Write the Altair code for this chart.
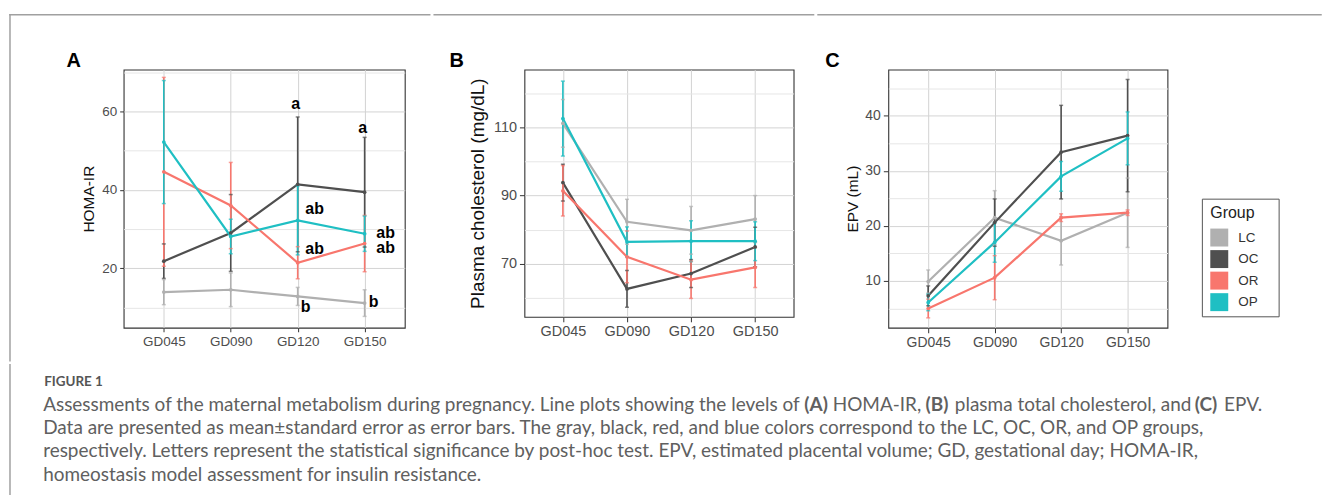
import altair as alt
import pandas as pd

# ---------------- data ----------------
GROUPS = ["LC", "OC", "OR", "OP"]
DAYS = ["GD045", "GD090", "GD120", "GD150"]
PALETTE = ["#b0b0b0", "#4f4f4f", "#f8766d", "#1fbfc3"]

# Panel A: HOMA-IR (mean, standard error)
homa_mean = [
    [13.9, 14.5, 12.8, 11.1],   # LC
    [21.8, 29.0, 41.4, 39.4],   # OC
    [44.6, 36.0, 21.4, 26.3],   # OR
    [52.2, 28.1, 32.2, 28.8],   # OP
]
homa_se = [
    [3.2, 4.3, 2.3, 3.4],
    [4.4, 9.8, 17.2, 14.0],
    [24.1, 11.0, 4.1, 7.2],
    [15.7, 4.4, 8.8, 4.5],
]

# Panel B: plasma cholesterol (mg/dL)
chol_mean = [
    [111.2, 82.3, 79.8, 83.1],
    [93.8, 62.6, 67.1, 74.9],
    [91.4, 72.0, 65.3, 68.9],
    [112.6, 76.4, 76.6, 76.6],
]
chol_se = [
    [7.0, 6.6, 7.0, 6.9],
    [5.4, 5.4, 4.1, 5.8],
    [7.4, 7.6, 5.5, 5.9],
    [11.0, 4.4, 6.0, 5.7],
]

# Panel C: EPV (mL)
epv_mean = [
    [9.9, 21.5, 17.3, 22.4],
    [7.3, 20.6, 33.4, 36.4],
    [5.0, 10.6, 21.5, 22.4],
    [6.1, 17.0, 29.0, 35.9],
]
epv_se = [
    [2.1, 4.9, 4.4, 6.3],
    [1.8, 4.3, 8.5, 10.2],
    [1.7, 4.0, 0.7, 0.5],
    [1.5, 3.6, 2.7, 4.8],
]

# significance letters in panel A
letter_text = ["a", "a", "ab", "ab", "ab", "ab", "b", "b"]
letter_day = ["GD120", "GD150", "GD120", "GD120", "GD150", "GD150", "GD120", "GD150"]
letter_value = [62.0, 55.9, 35.2, 24.8, 29.0, 25.2, 10.0, 11.3]

# caption
caption_title = "FIGURE 1"
caption_line1 = [
    ("Assessments of the maternal metabolism during pregnancy. Line plots showing the levels of", False),
    ("(A)", True), ("HOMA-IR,", False), ("(B)", True),
    ("plasma total cholesterol, and", False), ("(C)", True), ("EPV.", False),
]
caption_lines = [
    "Data are presented as mean\u00b1standard error as error bars. The gray, black, red, and blue colors correspond to the LC, OC, OR, and OP groups,",
    "respectively. Letters represent the statistical significance by post-hoc test. EPV, estimated placental volume; GD, gestational day; HOMA-IR,",
    "homeostasis model assessment for insulin resistance.",
]

# ---------------- layout / style (not data) ----------------
FONT = "Liberation Sans"
CAP_FONT = "Lato"
CAP_SIZE = 19
CAP_COLOR = "#606060"
FRAME = "#a0a0a0"
OX, OY = 122.75, 68          # page position of panel A's plot origin
CAP_OY = 361.5               # page y of the caption block origin
LETTER_DX = [-2, -2, 17, 17, 21, 21, 8, 9]
LINE1_PAGE_X = [42, 805.5, 834, 927, 956.5, 1197, 1226.5]
CAP_PAGE_Y = [379, 401.7, 425, 448.3, 471.7]
CAP_H = 130

ONE = alt.Data(values=[{"k": 1}])


def table(means, ses):
    rows = []
    for g, m, s in zip(GROUPS, means, ses):
        for d, mv, sv in zip(DAYS, m, s):
            rows.append({"group": g, "day": d, "mean": mv, "se": sv})
    return pd.DataFrame(rows)


def hline(x1, x2, y):
    return alt.Chart(ONE).mark_rule(color=FRAME, strokeWidth=1.5, strokeCap="square").encode(
        x=alt.value(x1), x2=alt.value(x2), y=alt.value(y))


def vline(x, y1, y2):
    return alt.Chart(ONE).mark_rule(color=FRAME, strokeWidth=1.5, strokeCap="square").encode(
        x=alt.value(x), y=alt.value(y1), y2=alt.value(y2))


def label(txt, x, y):
    return alt.Chart(ONE).mark_text(text=txt, font=FONT, fontSize=20, fontWeight="bold",
                                    color="#000", align="center", baseline="middle").encode(
        x=alt.value(x), y=alt.value(y))


cscale = alt.Scale(domain=GROUPS, range=PALETTE)
# the legend's scale is data-driven (sorted in group order) so it is not merged
# with the hidden colour legend
fscale = alt.Scale(range=PALETTE)


def panel(df, letter, letter_xy, ytitle, domain, values, test, w, h,
          lfs, tfs, tpad, tick, seg, extra=None, legend=None):
    xaxis = alt.Axis(title=None, labelFont=FONT, labelFontSize=lfs, labelColor="#4d4d4d",
                     labelPadding=3, labelAngle=0, tickSize=tick, tickColor="#333",
                     domain=False, grid=True, gridColor="#d2d2d2", gridWidth=1)
    x = alt.X("day:N", sort=DAYS, scale=alt.Scale(type="point", padding=0.6, domain=DAYS), axis=xaxis)
    yscale = alt.Scale(domain=domain, nice=False, zero=False)
    yaxis = alt.Axis(title=ytitle, values=values, labelExpr=f"({test}) ? datum.label : ''",
                     labelFont=FONT, labelFontSize=lfs, labelColor="#4d4d4d", labelPadding=3,
                     titleFont=FONT, titleFontSize=tfs, titleFontWeight="normal",
                     titleColor="#111", titlePadding=tpad,
                     tickSize=tick, tickColor="#333",
                     tickOpacity={"condition": {"test": test, "value": 1}, "value": 0},
                     gridColor={"condition": {"test": test, "value": "#d4d4d4"}, "value": "#e6e6e6"},
                     gridWidth=1, domain=False)
    color = alt.Color("group:N", scale=cscale, legend=None)
    base = alt.Chart(df).transform_calculate(lo="datum.mean - datum.se", hi="datum.mean + datum.se")
    lines = base.mark_line(strokeWidth=2.2).encode(
        x=x, y=alt.Y("mean:Q", scale=yscale, axis=yaxis), color=color)
    bars = base.mark_rule(strokeWidth=1.6).encode(
        x=x, y=alt.Y("lo:Q", scale=yscale, axis=yaxis), y2="hi:Q", color=color)
    cap_lo = base.mark_tick(size=4, thickness=1.5).encode(
        x=x, y=alt.Y("lo:Q", scale=yscale, axis=yaxis), color=color)
    cap_hi = base.mark_tick(size=4, thickness=1.5).encode(
        x=x, y=alt.Y("hi:Q", scale=yscale, axis=yaxis), color=color)
    if legend is not None:
        pts = base.mark_point(filled=True, size=14, opacity=1).encode(
            x=x, y=alt.Y("mean:Q", scale=yscale, axis=yaxis),
            fill=alt.Fill("group:N", sort=GROUPS, scale=fscale, legend=legend))
    else:
        pts = base.mark_point(filled=True, size=14, opacity=1).encode(
            x=x, y=alt.Y("mean:Q", scale=yscale, axis=yaxis), color=color)
    layers = [lines, bars, cap_lo, cap_hi, pts]
    if extra:
        layers += extra(x, yscale, yaxis)
    layers += [hline(seg[0], seg[1], seg[2]), label(letter, letter_xy[0], letter_xy[1])]
    return alt.layer(*layers).properties(width=w, height=h)


def letters_layers(x, yscale, yaxis):
    out = []
    for t, d, v, dx in zip(letter_text, letter_day, letter_value, LETTER_DX):
        df = pd.DataFrame({"day": [d], "v": [v], "t": [t]})
        out.append(alt.Chart(df).mark_text(font=FONT, fontSize=16, fontWeight="bold", color="#000",
                                           dx=dx, align="center", baseline="middle").encode(
            x=x, y=alt.Y("v:Q", scale=yscale, axis=yaxis), text="t:N"))
    out.append(vline(-114, -55, 292))
    return out


def legend_frame(x, yscale, yaxis):
    return [alt.Chart(ONE).mark_rect(fill="transparent", stroke="#555", strokeWidth=1).encode(
        x=alt.value(315), x2=alt.value(392), y=alt.value(130), y2=alt.value(248))]


legend_c = alt.Legend(orient="none", legendX=1212.7 - OX, legendY=204 - OY, title="Group", padding=0,
                      titleFont=FONT, titleFontSize=16, titleFontWeight="normal", titleColor="#222",
                      titlePadding=7.5, symbolType="square", symbolSize=324, symbolStrokeWidth=0,
                      symbolOpacity=1, labelFont=FONT, labelFontSize=13.5, labelColor="#333",
                      labelOffset=10, rowPadding=3.6)

pA = panel(table(homa_mean, homa_se), "A", (-50, -9), "HOMA-IR", [4.8, 70.7],
           [10, 20, 30, 40, 50, 60, 70], "datum.value % 20 === 0", 282, 259,
           13.5, 15.5, 5, 4, (-114, 307, -55), extra=letters_layers)
pB = panel(table(chol_mean, chol_se), "B", (-68, -9), "Plasma cholesterol (mg/dL)", [54.4, 127.0],
           [60, 70, 80, 90, 100, 110, 120], "(datum.value - 70) % 20 === 0", 270, 248,
           14.5, 19, 6, 5, (-90.5, 290, -55))
pC = panel(table(epv_mean, epv_se), "C", (-56, -9), "EPV (mL)", [1.5, 48.4],
           [5, 10, 15, 20, 25, 30, 35, 40, 45], "datum.value % 10 === 0", 280, 259,
           14, 15.5, 4, 5, (-70.5, 434, -55), extra=legend_frame, legend=legend_c)

top = alt.hconcat(pA, pB, pC, spacing=0)

# caption block (coordinates relative to panel A's origin column)
cap_layers = [vline(-114, 0, CAP_H)]
cap_layers.append(alt.Chart(ONE).mark_text(text=caption_title, font=CAP_FONT, fontSize=13.5,
                                           fontWeight="bold", color="#555", align="left",
                                           baseline="middle").encode(
    x=alt.value(43 - OX), y=alt.value(CAP_PAGE_Y[0] - CAP_OY)))
for (txt, bold), xpos in zip(caption_line1, LINE1_PAGE_X):
    cap_layers.append(alt.Chart(ONE).mark_text(text=txt, font=CAP_FONT, fontSize=CAP_SIZE,
                                               fontWeight="bold" if bold else "normal",
                                               color=CAP_COLOR, align="left", baseline="middle").encode(
        x=alt.value(xpos - OX), y=alt.value(CAP_PAGE_Y[1] - CAP_OY)))
for txt, ypos in zip(caption_lines, CAP_PAGE_Y[2:]):
    cap_layers.append(alt.Chart(ONE).mark_text(text=txt, font=CAP_FONT, fontSize=CAP_SIZE,
                                               color=CAP_COLOR, align="left", baseline="middle").encode(
        x=alt.value(42 - OX), y=alt.value(ypos - CAP_OY)))
caption = alt.layer(*cap_layers).properties(width=1100, height=CAP_H,
                                            view=alt.ViewBackground(stroke="transparent"))

chart = alt.vconcat(top, caption, spacing=0)
chart = chart.properties(padding={"left": 0, "top": 4, "right": 0, "bottom": 0},
                         background="white").configure_view(stroke="#333", strokeWidth=1.1)

chart.save("out.html", embed_options={"renderer": "svg", "actions": False})
